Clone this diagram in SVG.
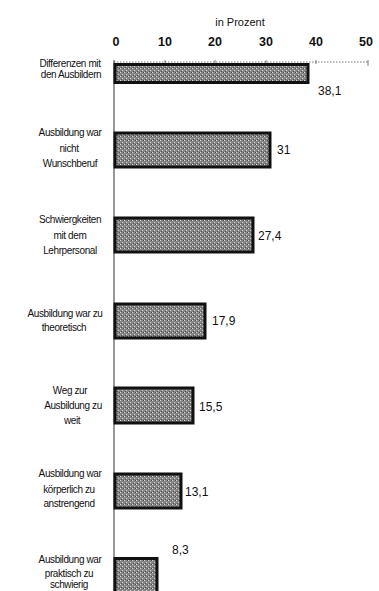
<svg xmlns="http://www.w3.org/2000/svg" width="379" height="591" viewBox="0 0 379 591">
<defs>
<pattern id="dith" width="4" height="4" patternUnits="userSpaceOnUse">
<rect width="4" height="4" fill="#858585"/>
<rect x="0" y="0" width="1" height="1" fill="#d8d8d8"/>
<rect x="2" y="2" width="1" height="1" fill="#d0d0d0"/>
<rect x="3" y="0" width="1" height="1" fill="#505050"/>
<rect x="1" y="3" width="1" height="1" fill="#555"/>
</pattern>
</defs>
<style>
.bar{fill:url(#dith);stroke:#111;stroke-width:3}
.cat{font-family:"Liberation Sans",Arial,sans-serif;font-size:10px;letter-spacing:-0.4px;fill:#111;text-anchor:middle}
.val{font-family:"Liberation Sans",Arial,sans-serif;font-size:12px;fill:#111}
.tick{font-family:"Liberation Sans",Arial,sans-serif;font-size:12.5px;font-weight:bold;fill:#111;text-anchor:middle}
.ttl{font-family:"Liberation Sans",Arial,sans-serif;font-size:11px;fill:#111;text-anchor:middle}
</style>
<rect width="379" height="591" fill="#fff"/>
<g id="axis">
<text class="ttl" x="240" y="26">in Prozent</text>
<text class="tick" x="116" y="46">0</text>
<text class="tick" x="165" y="46">10</text>
<text class="tick" x="215" y="46">20</text>
<text class="tick" x="266" y="46">30</text>
<text class="tick" x="316" y="46">40</text>
<text class="tick" x="366" y="46">50</text>
<line x1="114" y1="62" x2="368" y2="62" stroke="#555" stroke-width="0.8" stroke-dasharray="1.5,1.5"/>
<line x1="368" y1="60" x2="368" y2="66" stroke="#555" stroke-width="0.8"/>
<line x1="165" y1="60" x2="165" y2="64" stroke="#555" stroke-width="0.8"/>
<line x1="215" y1="60" x2="215" y2="64" stroke="#555" stroke-width="0.8"/>
<line x1="266" y1="60" x2="266" y2="64" stroke="#555" stroke-width="0.8"/>
<line x1="316" y1="60" x2="316" y2="64" stroke="#555" stroke-width="0.8"/>
<line x1="114" y1="60" x2="114" y2="591" stroke="#333" stroke-width="1"/>
</g>
<g id="bar1">
<rect class="bar" x="115" y="64.5" width="193" height="18"/>
<text class="cat" x="70" y="67">Differenzen mit</text>
<text class="cat" x="71" y="78">den Ausbildern</text>
<text class="val" x="318" y="95">38,1</text>
</g>
<g id="bar2">
<rect class="bar" x="115" y="133" width="155" height="34"/>
<text class="cat" x="70" y="136">Ausbildung war</text>
<text class="cat" x="69" y="152">nicht</text>
<text class="cat" x="70" y="167">Wunschberuf</text>
<text class="val" x="277" y="154">31</text>
</g>
<g id="bar3">
<rect class="bar" x="115" y="218" width="138" height="34"/>
<text class="cat" x="70" y="223">Schwiergkeiten</text>
<text class="cat" x="70" y="239">mit dem</text>
<text class="cat" x="70" y="254">Lehrpersonal</text>
<text class="val" x="258" y="240">27,4</text>
</g>
<g id="bar4">
<rect class="bar" x="115" y="304" width="90" height="34"/>
<text class="cat" x="65" y="317">Ausbildung war zu</text>
<text class="cat" x="64" y="331">theoretisch</text>
<text class="val" x="212" y="325">17,9</text>
</g>
<g id="bar5">
<rect class="bar" x="115" y="388" width="78" height="35"/>
<text class="cat" x="70" y="394">Weg zur</text>
<text class="cat" x="73" y="409">Ausbildung zu</text>
<text class="cat" x="72" y="424">weit</text>
<text class="val" x="199" y="411">15,5</text>
</g>
<g id="bar6">
<rect class="bar" x="115" y="474" width="66" height="34"/>
<text class="cat" x="70" y="477">Ausbildung war</text>
<text class="cat" x="69" y="493">körperlich zu</text>
<text class="cat" x="69" y="507">anstrengend</text>
<text class="val" x="185" y="496">13,1</text>
</g>
<g id="bar7">
<rect class="bar" x="115" y="558.5" width="42" height="36"/>
<text class="cat" x="70" y="563">Ausbildung war</text>
<text class="cat" x="69" y="577">praktisch zu</text>
<text class="cat" x="69" y="588">schwierig</text>
<text class="val" x="172" y="554">8,3</text>
</g>
</svg>
